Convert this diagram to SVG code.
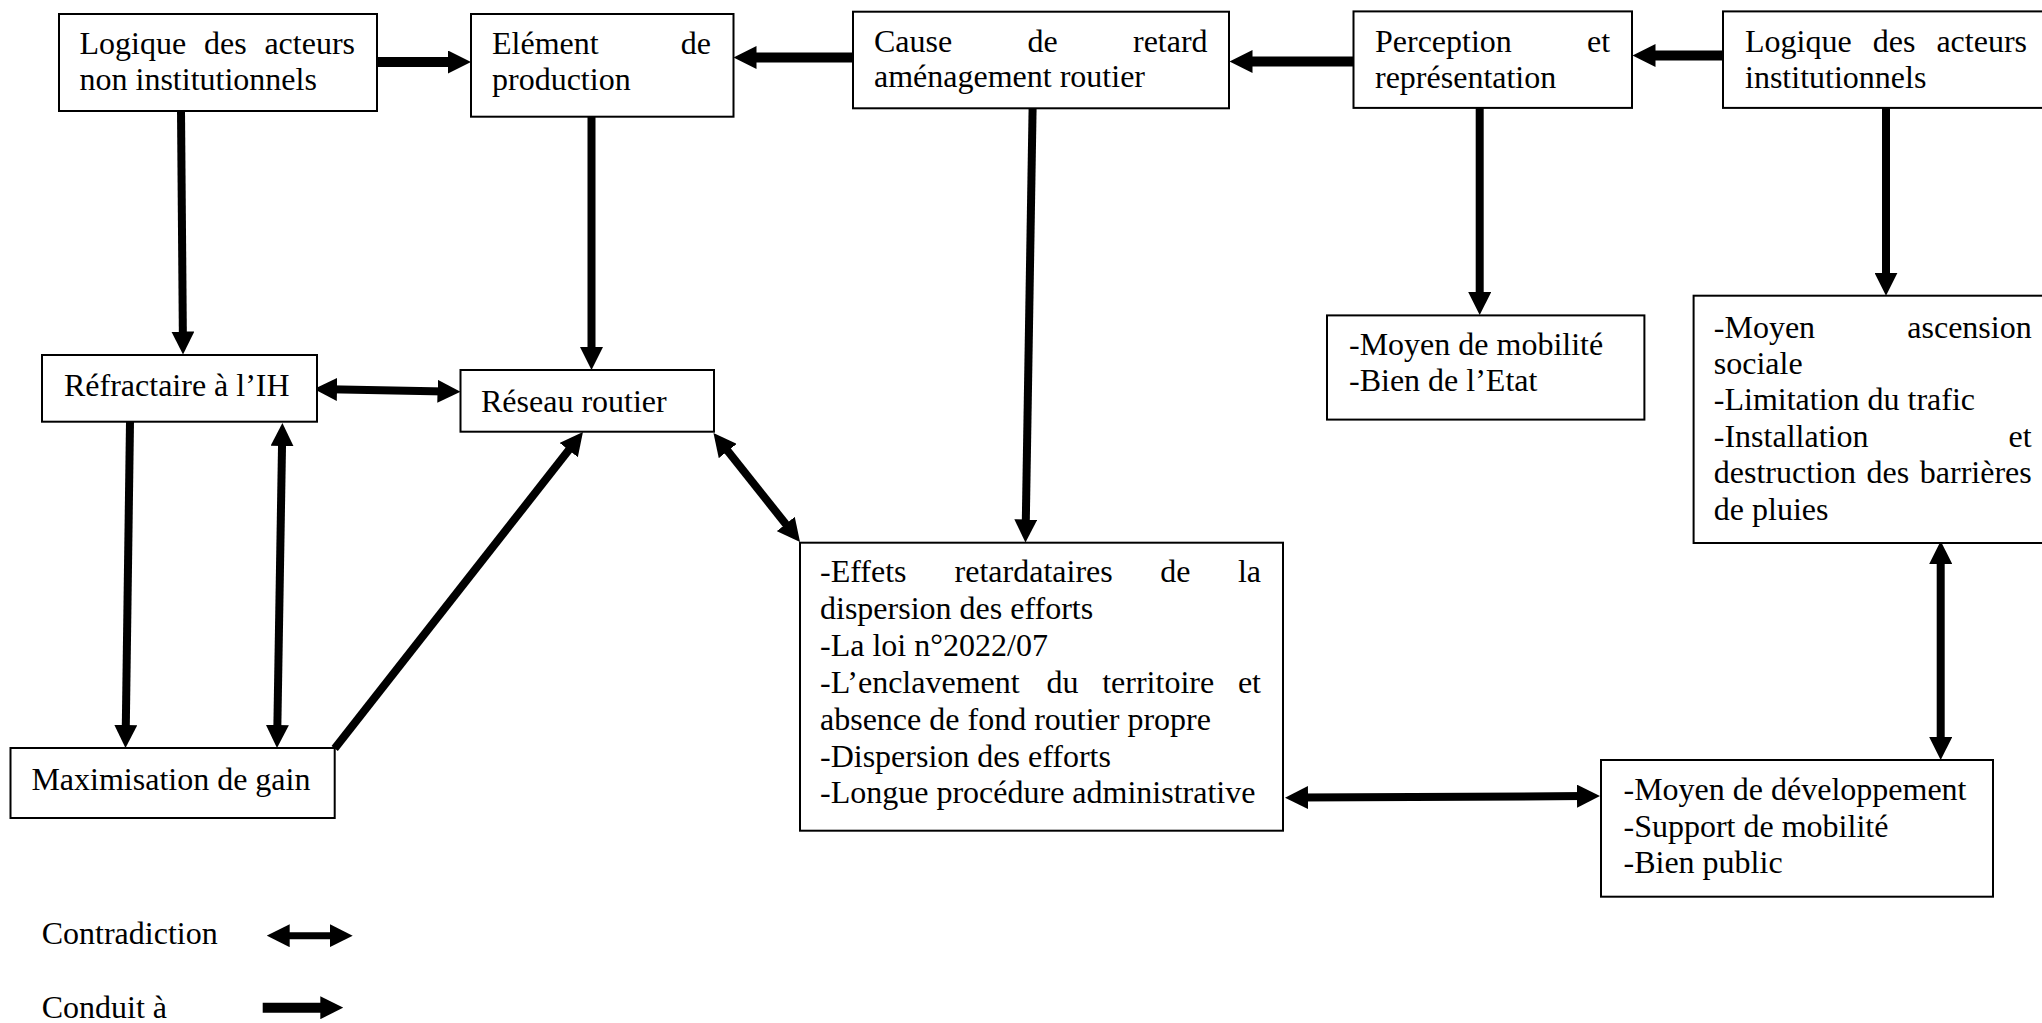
<svg xmlns="http://www.w3.org/2000/svg" width="2042" height="1023" viewBox="0 0 2042 1023">
<style>
  .box { fill: #fff; stroke: #000; stroke-width: 2; }
  text { font-family: "Liberation Serif", "Times New Roman", serif; font-size: 32px; fill: #000; }
  .c { fill: none; stroke: #000; stroke-width: 8; }
  .t { stroke-width: 10; }
  .one { marker-end: url(#ah); }
  .two { marker-start: url(#ah); marker-end: url(#ah); }
</style>
<defs>
  <marker id="ah" markerUnits="userSpaceOnUse" markerWidth="23" markerHeight="23" viewBox="0 0 23 23" refX="8" refY="11.5" orient="auto-start-reverse">
    <path d="M0,0 L23,11.5 L0,23 z" fill="#000"/>
  </marker>
</defs>
<rect width="2042" height="1023" fill="#fff"/>

<g id="connectors">
  <line class="c t one" x1="377" y1="62" x2="456" y2="62"/>
  <line class="c t one" x1="853" y1="57.5" x2="748.5" y2="57.5"/>
  <line class="c t one" x1="1354" y1="61.5" x2="1244.5" y2="61.5"/>
  <line class="c t one" x1="1723" y1="55.5" x2="1647.5" y2="55.5"/>
  <line class="c one" x1="181" y1="111" x2="182.9" y2="339.5"/>
  <line class="c one" x1="591.5" y1="117" x2="591.5" y2="355"/>
  <line class="c one" x1="1032.6" y1="108" x2="1025.7" y2="527.5"/>
  <line class="c one" x1="1479.7" y1="108" x2="1479.7" y2="300"/>
  <line class="c one" x1="1886" y1="108" x2="1886" y2="280.7"/>
  <line class="c two" x1="329" y1="389.3" x2="445.5" y2="391.4"/>
  <line class="c one" x1="130" y1="422" x2="125.7" y2="733"/>
  <line class="c two" x1="282.15" y1="438" x2="277.25" y2="733"/>
  <line class="c one" x1="334.7" y1="748.5" x2="573.7" y2="443.8"/>
  <line class="c two" x1="722.8" y1="444.75" x2="790.7" y2="530.25"/>
  <line class="c two" x1="1300" y1="797.6" x2="1585" y2="796.1"/>
  <line class="c two" x1="1940.7" y1="556" x2="1940.7" y2="745"/>
</g>

<g id="n-logique-non-inst">
  <rect class="box" x="59" y="14" width="318" height="97"/>
  <text y="54"><tspan x="79.5">Logique</tspan><tspan x="204">des</tspan><tspan x="264.4">acteurs</tspan></text>
  <text x="79.5" y="90">non institutionnels</text>
</g>

<g id="n-element">
  <rect class="box" x="471" y="14" width="262.5" height="102.7"/>
  <text y="54"><tspan x="492">Elément</tspan><tspan x="680.8">de</tspan></text>
  <text x="492" y="90">production</text>
</g>

<g id="n-cause">
  <rect class="box" x="853" y="11.7" width="376" height="96.6"/>
  <text y="51.7"><tspan x="874">Cause</tspan><tspan x="1027.5">de</tspan><tspan x="1133">retard</tspan></text>
  <text x="874" y="87.3">aménagement routier</text>
</g>

<g id="n-perception">
  <rect class="box" x="1353.5" y="11.4" width="278.5" height="96.5"/>
  <text y="51.8"><tspan x="1375">Perception</tspan><tspan x="1587">et</tspan></text>
  <text x="1375" y="87.5">représentation</text>
</g>

<g id="n-logique-inst">
  <rect class="box" x="1723" y="11.4" width="330" height="96.5"/>
  <text y="51.8"><tspan x="1745">Logique</tspan><tspan x="1872.7">des</tspan><tspan x="1936.4">acteurs</tspan></text>
  <text x="1745" y="87.5">institutionnels</text>
</g>

<g id="n-refractaire">
  <rect class="box" x="42" y="355" width="275" height="66.7"/>
  <text x="64" y="396">Réfractaire à l’IH</text>
</g>

<g id="n-reseau">
  <rect class="box" x="460.5" y="370" width="253.5" height="61.7"/>
  <text x="481" y="411.7">Réseau routier</text>
</g>

<g id="n-moyen-mobilite">
  <rect class="box" x="1327" y="315.4" width="317.4" height="104.2"/>
  <text x="1349" y="355.4">-Moyen de mobilité</text>
  <text x="1349" y="391">-Bien de l’Etat</text>
</g>

<g id="n-moyen-ascension">
  <rect class="box" x="1693.6" y="295.7" width="360" height="247.3"/>
  <text y="337.5"><tspan x="1713.8">-Moyen</tspan><tspan x="1907.3">ascension</tspan></text>
  <text x="1713.8" y="373.9">sociale</text>
  <text x="1713.8" y="410.3">-Limitation du trafic</text>
  <text y="446.7"><tspan x="1713.8">-Installation</tspan><tspan x="2008.6">et</tspan></text>
  <text y="483.1"><tspan x="1713.8">destruction</tspan><tspan x="1866.5">des</tspan><tspan x="1919.8">barrières</tspan></text>
  <text x="1713.8" y="519.5">de pluies</text>
</g>

<g id="n-maximisation">
  <rect class="box" x="10.5" y="748" width="324.2" height="70"/>
  <text x="31.4" y="790">Maximisation de gain</text>
</g>

<g id="n-effets">
  <rect class="box" x="800" y="542.7" width="483" height="288"/>
  <text y="582"><tspan x="820">-Effets</tspan><tspan x="954.6">retardataires</tspan><tspan x="1160.2">de</tspan><tspan x="1237.9">la</tspan></text>
  <text x="820" y="618.9">dispersion des efforts</text>
  <text x="820" y="655.8">-La loi n°2022/07</text>
  <text y="692.7"><tspan x="820">-L’enclavement</tspan><tspan x="1046.4">du</tspan><tspan x="1102.2">territoire</tspan><tspan x="1237.9">et</tspan></text>
  <text x="820" y="729.6">absence de fond routier propre</text>
  <text x="820" y="766.5">-Dispersion des efforts</text>
  <text x="820" y="803.4">-Longue procédure administrative</text>
</g>

<g id="n-moyen-developpement">
  <rect class="box" x="1601" y="760" width="392" height="136.7"/>
  <text x="1623.5" y="800">-Moyen de développement</text>
  <text x="1623.5" y="836.5">-Support de mobilité</text>
  <text x="1623.5" y="873">-Bien public</text>
</g>

<g id="legend">
  <text x="41.7" y="944">Contradiction</text>
  <line class="c two" x1="281.7" y1="935.7" x2="337.7" y2="935.7" style="stroke-width:7"/>
  <text x="41.7" y="1018">Conduit à</text>
  <line class="c t one" x1="262.7" y1="1007.7" x2="328.3" y2="1007.7"/>
</g>
</svg>
